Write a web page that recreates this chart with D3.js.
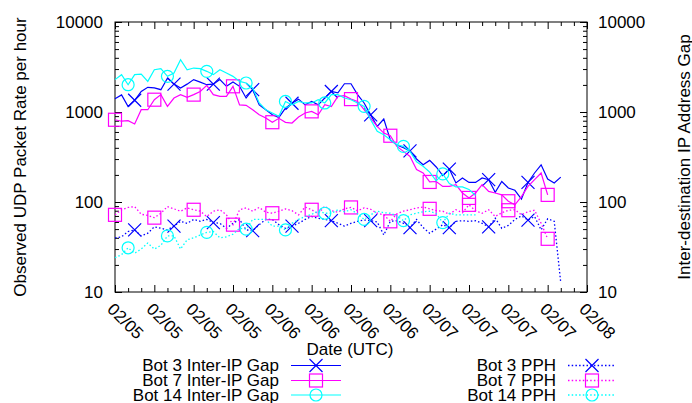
<!DOCTYPE html>
<html>
<head>
<meta charset="utf-8">
<script src="https://cdn.jsdelivr.net/npm/d3@7"></script>
<style>
  body { margin: 0; background: #fff; }
  text { font-family: "Liberation Sans", Arial, Helvetica, sans-serif; fill: #000; }
</style>
</head>
<body>
<svg id="chart" width="692" height="403"></svg>
<script>
// hourly samples, first sample at 02/05 00:00 UTC
const startTime = Date.UTC(2014, 1, 5, 0);
const endTime = Date.UTC(2014, 1, 8, 0);

const seriesNames = ["Bot 3 Inter-IP Gap", "Bot 7 Inter-IP Gap", "Bot 14 Inter-IP Gap",
                     "Bot 3 PPH", "Bot 7 PPH", "Bot 14 PPH"];

const bot3Gap = [1400, 1550, 1150, 1350, 1690, 1880, 1850, 1770, 2380, 2040, 1850, 2040, 2290, 2150, 2010, 2040,
  2290, 1930, 2150, 1930, 1430, 1770, 1200, 1060, 930, 870, 1100, 1250, 1390, 1200, 1310, 1200, 1430, 1690,
  1630, 2060, 2060, 1560, 1260, 930, 690, 835, 490, 430, 400, 370, 300, 260, 290, 245, 196, 232, 163, 185,
  165, 165, 185, 177, 128, 169, 143, 135, 108, 165, 210, 259, 180, 163, 189];
const bot7Gap = [820, 790, 800, 735, 1060, 1060, 1370, 1560, 1155, 1430, 1560, 1455, 1560, 1690, 1980, 1560,
  1490, 1490, 1930, 1200, 1185, 1060, 930, 857, 770, 850, 767, 754, 880, 975, 1016, 933, 1205, 1150, 1490,
  1520, 1390, 1310, 1060, 857, 692, 583, 545, 415, 365, 321, 230, 210, 167, 169, 149, 149, 156, 126, 111,
  126, 156, 131, 126, 120, 102, 93, 115, 149, 177, 210, 120];
const bot14Gap = [2290, 2600, 2010, 2600, 2640, 2190, 2950, 3030, 2490, 2710, 3810, 2950, 3080, 3030, 2830,
  2600, 2950, 2710, 2490, 2190, 2100, 1850, 1260, 1060, 975, 895, 1310, 1205, 1310, 1260, 1260, 1370, 1260,
  1560, 1560, 1430, 1370, 1260, 1155, 820, 609, 559, 492, 433, 415, 365, 280, 249, 215, 172, 205, 160, 147,
  147, 138, 118];
const bot3Pph = [40, 41, 47, 49, 42, 45, 53, 51, 49, 54, 61, 58, 64, 61, 64, 59, 58, 51, 58, 64, 49, 48, 56,
  64, 64, 56, 51, 54, 58, 64, 69, 66, 64, 62, 58, 54, 58, 61, 63, 62, 60, 43, 61, 62, 58, 52, 64, 52, 45, 50,
  56, 52, 61, 62, 61, 62, 58, 53, 66, 51, 55, 64, 70, 63, 69, 49, 65, 61, 12.6];
const bot7Pph = [72, 82, 87, 89, 73, 71, 67, 75, 89, 84, 79, 86, 82, 79, 69, 79, 82, 72, 56, 82, 86, 79, 87,
  77, 75, 79, 84, 80, 72, 88, 82, 74, 90, 80, 77, 84, 87, 80, 86, 83, 75, 72, 61, 74, 79, 82, 86, 88, 84, 80,
  79, 73, 82, 76, 93, 80, 75, 82, 69, 76, 81, 82, 72, 78, 81, 58, 39];
const bot14Pph = [24, 26, 31, 27, 30, 35, 30, 33, 42, 42, 30, 38, 40, 43, 46, 47, 40, 41, 44, 51, 50, 64, 64,
  64, 54, 54, 49, 58, 64, 69, 73, 79, 75, 75, 82, 78, 82, 74, 64, 72, 79, 76, 75, 70, 62, 72, 75, 78, 79, 74,
  59, 75, 72, 72, 72, 72];

// first sample index that carries a point symbol (then every 6th)
const markerFirst = [3, 0, 2, 3, 0, 2];
const markerEvery = 6;

const yMajorTicks = [10, 100, 1000, 10000];

const seriesValues = [bot3Gap, bot7Gap, bot14Gap, bot3Pph, bot7Pph, bot14Pph];

const colours = ["#0000ff", "#ff00ff", "#00ffff", "#0000ff", "#ff00ff", "#00ffff"];
const shapes = ["cross", "square", "circle", "cross", "square", "circle"];

const svg = d3.select("#chart");
const plotL = 115, plotR = 587, plotT = 22, plotB = 292;
const fontSize = 17;

const x = d3.scaleUtc().domain([new Date(startTime), new Date(endTime)]).range([plotL, plotR]);
const y = d3.scaleLog().domain([10, 10000]).range([plotB, plotT]);

const allLogTicks = y.ticks();
const yMinor = allLogTicks.filter(v => !yMajorTicks.includes(v));
const xMajor = d3.utcHour.every(6).range(new Date(startTime), new Date(endTime + 1));
const xMinor = d3.utcHour.every(2).range(new Date(startTime), new Date(endTime + 1)).filter(t => t.getUTCHours() % 6 !== 0);

function clean(g) { g.select(".domain").remove(); g.selectAll("line").attr("stroke", "#000"); }

// left / right y axes
svg.append("g").attr("transform", `translate(${plotL},0)`)
  .call(d3.axisLeft(y).tickValues(yMajorTicks).tickSize(-7).tickSizeOuter(0).tickPadding(12).tickFormat(d3.format("d")))
  .call(clean).call(g => g.selectAll("text").attr("font-size", fontSize).attr("font-family", null));
svg.append("g").attr("transform", `translate(${plotL},0)`)
  .call(d3.axisLeft(y).tickValues(yMinor).tickSize(-4).tickSizeOuter(0).tickFormat(""))
  .call(clean);
svg.append("g").attr("transform", `translate(${plotR},0)`)
  .call(d3.axisRight(y).tickValues(yMajorTicks).tickSize(-7).tickSizeOuter(0).tickPadding(11).tickFormat(d3.format("d")))
  .call(clean).call(g => g.selectAll("text").attr("font-size", fontSize).attr("font-family", null));
svg.append("g").attr("transform", `translate(${plotR},0)`)
  .call(d3.axisRight(y).tickValues(yMinor).tickSize(-4).tickSizeOuter(0).tickFormat(""))
  .call(clean);

// bottom / top x axes
const gx = svg.append("g").attr("transform", `translate(0,${plotB})`)
  .call(d3.axisBottom(x).tickValues(xMajor).tickSize(-7).tickSizeOuter(0).tickFormat(d3.utcFormat("%m/%d")))
  .call(clean);
gx.selectAll("text")
  .attr("font-size", fontSize).attr("font-family", null)
  .attr("text-anchor", "start")
  .attr("y", 0).attr("dy", "0.35em")
  .attr("transform", "translate(-5,14) rotate(45)");
svg.append("g").attr("transform", `translate(0,${plotB})`)
  .call(d3.axisBottom(x).tickValues(xMinor).tickSize(-4).tickSizeOuter(0).tickFormat(""))
  .call(clean);
svg.append("g").attr("transform", `translate(0,${plotT})`)
  .call(d3.axisTop(x).tickValues(xMajor).tickSize(-7).tickSizeOuter(0).tickFormat(""))
  .call(clean);
svg.append("g").attr("transform", `translate(0,${plotT})`)
  .call(d3.axisTop(x).tickValues(xMinor).tickSize(-4).tickSizeOuter(0).tickFormat(""))
  .call(clean);

// frame
svg.append("rect").attr("x", plotL).attr("y", plotT).attr("width", plotR - plotL).attr("height", plotB - plotT)
  .attr("fill", "none").attr("stroke", "#000").attr("stroke-width", 1);

// axis titles
svg.append("text").attr("transform", `translate(20,${(plotT + plotB) / 2}) rotate(-90)`)
  .attr("text-anchor", "middle").attr("dominant-baseline", "central").attr("font-size", fontSize)
  .text("Observed UDP Packet Rate per hour");
svg.append("text").attr("transform", `translate(684,${(plotT + plotB) / 2}) rotate(-90)`)
  .attr("text-anchor", "middle").attr("dominant-baseline", "central").attr("font-size", fontSize)
  .text("Inter-destination IP Address Gap");
svg.append("text").attr("x", 350).attr("y", 349)
  .attr("text-anchor", "middle").attr("dominant-baseline", "central").attr("font-size", fontSize)
  .text("Date (UTC)");

function drawMarker(g, shape, cx, cy, colour) {
  if (shape === "cross") {
    g.append("path").attr("d", `M${cx - 6.5},${cy - 6.5}L${cx + 6.5},${cy + 6.5}M${cx - 6.5},${cy + 6.5}L${cx + 6.5},${cy - 6.5}`)
      .attr("stroke", colour).attr("stroke-width", 1.2).attr("fill", "none");
  } else if (shape === "square") {
    g.append("rect").attr("x", cx - 6.5).attr("y", cy - 6.5).attr("width", 13).attr("height", 13)
      .attr("stroke", colour).attr("stroke-width", 1.2).attr("fill", "none");
  } else {
    g.append("circle").attr("cx", cx).attr("cy", cy).attr("r", 6)
      .attr("stroke", colour).attr("stroke-width", 1.2).attr("fill", "none");
  }
}

const line = d3.line().x(d => x(d.t)).y(d => y(d.v));
const plot = svg.append("g");

seriesValues.forEach((vals, i) => {
  const pts = vals.map((v, h) => ({ t: new Date(startTime + h * 3600e3), v }));
  const dotted = i >= 3;
  plot.append("path").datum(pts).attr("d", line)
    .attr("fill", "none").attr("stroke", colours[i]).attr("stroke-width", dotted ? 1.3 : 1.2)
    .attr("stroke-dasharray", dotted ? "1.5,2.2" : null);
  for (let h = markerFirst[i]; h < pts.length; h += markerEvery) {
    drawMarker(plot, shapes[i], x(pts[h].t), y(pts[h].v), colours[i]);
  }
});

// legend
const legendRows = [365.5, 380.5, 395];
const legendCols = [{ textEnd: 279, x0: 291, x1: 341 }, { textEnd: 556, x0: 568, x1: 616 }];
seriesNames.forEach((name, i) => {
  const col = legendCols[Math.floor(i / 3)], ry = legendRows[i % 3];
  const dotted = i >= 3;
  svg.append("text").attr("x", col.textEnd).attr("y", ry).attr("text-anchor", "end")
    .attr("dominant-baseline", "central").attr("font-size", fontSize).text(name);
  svg.append("line").attr("x1", col.x0).attr("x2", col.x1).attr("y1", ry).attr("y2", ry)
    .attr("stroke", colours[i]).attr("stroke-width", dotted ? 1.3 : 1.2)
    .attr("stroke-dasharray", dotted ? "1.5,2.2" : null);
  drawMarker(svg, shapes[i], (col.x0 + col.x1) / 2, ry, colours[i]);
});
</script>
</body>
</html>
